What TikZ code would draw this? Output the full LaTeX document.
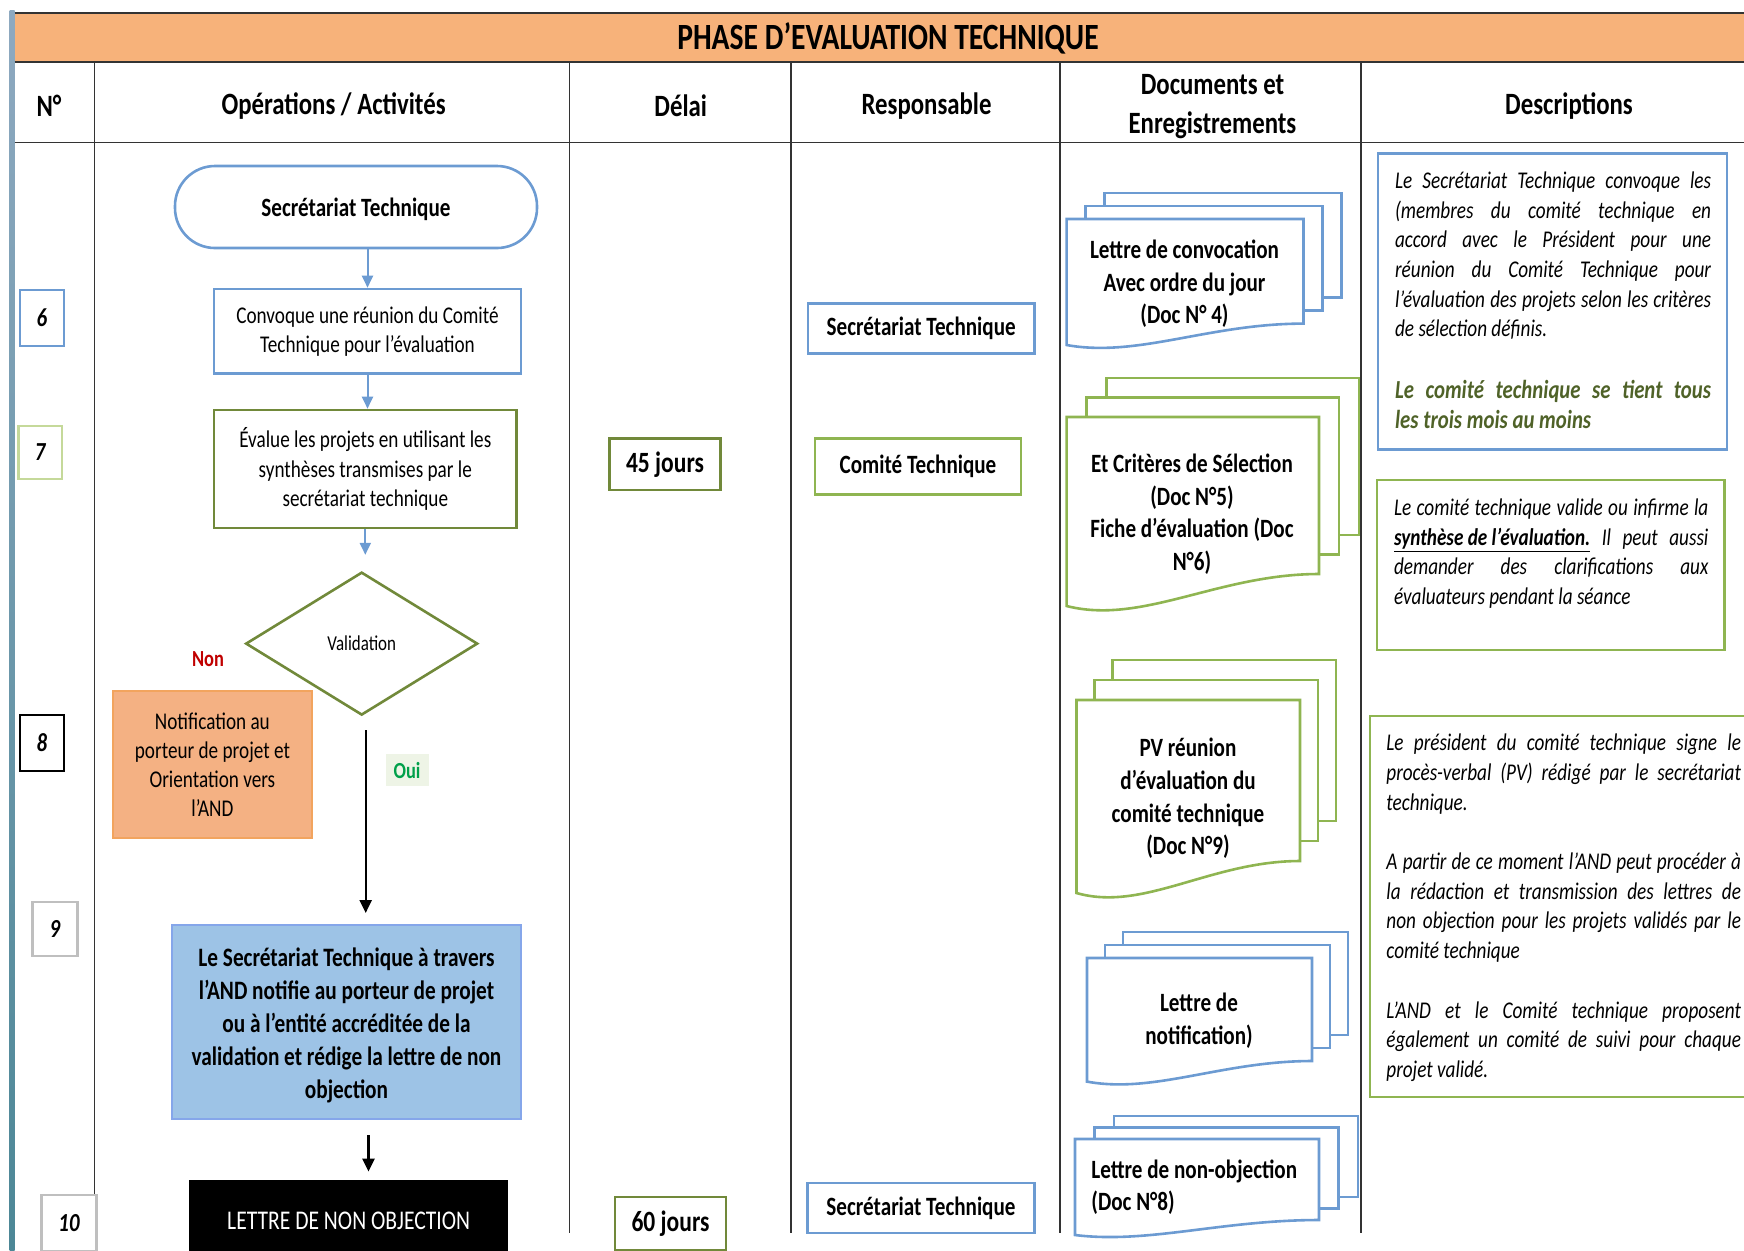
\documentclass[tikz,border=0pt]{standalone}
\usepackage{fontspec}
\setmainfont{Carlito}[FakeStretch=0.8]
\usetikzlibrary{arrows.meta,shapes.geometric}

\definecolor{bandorange}{HTML}{F7B27A}
\definecolor{lineblue}{HTML}{6C9BD2}
\definecolor{flowgreen}{HTML}{71893A}
\definecolor{docgreen}{HTML}{8FB551}
\definecolor{numgreen}{HTML}{C5D99A}
\definecolor{numgray}{HTML}{BFBFBF}
\definecolor{salmon}{HTML}{F4B183}
\definecolor{salmonline}{HTML}{F2A45E}
\definecolor{fillblue}{HTML}{9DC3E6}
\definecolor{nonred}{HTML}{C00000}
\definecolor{ouigreen}{HTML}{00A04A}
\definecolor{ouibg}{HTML}{EEF4E6}
\definecolor{textgreen}{HTML}{4F6228}
\definecolor{sidetop}{HTML}{8EA9C0}
\definecolor{sidebot}{HTML}{4C8796}

\newcommand\fsz[2]{\fontsize{#1}{#2}\selectfont}
\newcommand\jl[1]{\makebox[\linewidth][s]{#1}}
\newcommand\docstack[8]{%
  \foreach \k in {2,1}
    \draw[#8, fill=white, line width=1.3pt] ({#1+\k*#6},{#2-\k*#7}) rectangle ({#3+\k*#6},{#5-\k*#7});
  \draw[#8, fill=white, line width=1.3pt] (#1,#2) -- (#3,#2) -- (#3,#5)
    .. controls ({#1+0.6*(#3-#1)},#5) and ({#1+0.3*(#3-#1)},{#4+0.6*(#4-#5)}) .. (#1,#4) -- cycle;
}

\begin{document}
\begin{tikzpicture}[x=0.5pt, y=-0.5pt,
    every node/.style={inner sep=0pt},
    headtext/.style={font=\fsz{15.5}{19.5}\bfseries, align=center},
    numbox/.style={draw=#1, line width=1.2pt, font=\fsz{13}{15}\bfseries\itshape},
    flowbox/.style={draw=#1, line width=1.3pt, align=center, font=\fsz{12}{14.6}},
    respbox/.style={draw=#1, line width=1.3pt, font=\fsz{13.2}{16}\bfseries},
    doctext/.style={align=center, font=\fsz{13.2}{16.3}\bfseries},
    descbox/.style={draw=#1, line width=1.3pt},
    desctext/.style={anchor=north west, font=\fsz{12}{14.85}\itshape},
    bluearrow/.style={lineblue, line width=1pt, -{Triangle[length=6pt,width=5.5pt]}},
    blackarrow/.style={black, line width=1.1pt, -{Triangle[length=6.5pt,width=6pt]}}]
    \useasboundingbox (0,0) rectangle (1744,1250);
    \shade[top color=sidetop, bottom color=sidebot] (9.5,10) rectangle (14.5,1250);
    \fill[bandorange] (14.5,12.5) rectangle (1744,61.5);
    \draw[line width=1pt, black!80] (14.5,12.5) -- (1744,12.5);
    \draw[line width=1pt, black!80] (14.5,61.5) -- (1744,61.5);
    \draw[line width=0.9pt, black!80] (14.5,142.5) -- (1744,142.5);
    \draw[line width=0.8pt, black!80] (94.5,61.5) -- (94.5,1195);
    \foreach \x in {569.5,791,1060,1361}{
        \draw[line width=0.8pt, black!80] (\x,61.5) -- (\x,1233);}
    \node[font=\fsz{18.5}{22}\bfseries] (title) at (888,38) {PHASE D’EVALUATION TECHNIQUE};
    \node[headtext] (hno) at (49,106) {N°};
    \node[headtext] (hop) at (333.6,106) {Opérations / Activités};
    \node[headtext] (hdelai) at (680.7,106) {Délai};
    \node[headtext] (hresp) at (926.5,106) {Responsable};
    \node[headtext] (hdoc) at (1212.5,107) {Documents et\\Enregistrements};
    \node[headtext] (hdesc) at (1569,106) {Descriptions};

    \node[numbox=lineblue, minimum width=22pt, minimum height=28pt] (n6) at (42,318) {6};
    \node[numbox=numgreen, minimum width=21.8pt, minimum height=26.6pt] (n7) at (40.2,452.4) {7};
    \node[numbox=black, minimum width=22pt, minimum height=28pt] (n8) at (42,743) {8};
    \node[numbox=numgray, minimum width=22.4pt, minimum height=27pt] (n9) at (55,929) {9};
    \node[numbox=numgray, minimum width=27.5pt, minimum height=28pt] (n10) at (69,1223) {10};

    \node[draw=lineblue, line width=1.3pt, rounded corners=20pt, minimum width=181pt, minimum height=41pt,
        text depth=0pt, font=\fsz{13.2}{16}\bfseries] (start) at (356,207) {Secrétariat Technique};
    \node[flowbox=lineblue, minimum width=153.5pt, minimum height=42.3pt] (conv) at (367.5,331.3)
        {Convoque une réunion du Comité\\Technique pour l’évaluation};
    \node[flowbox=flowgreen, minimum width=151.3pt, minimum height=59pt] (eval) at (365.3,469)
        {Évalue les projets en utilisant les\\synthèses transmises par le\\secrétariat technique};
    \node[diamond, draw=flowgreen, line width=1.3pt, aspect=1.62, minimum width=116pt, minimum height=71.5pt,
        font=\fsz{10.6}{12}] (valid) at (361.7,643.6) {Validation};
    \node[font=\fsz{11.5}{13}\bfseries, text=nonred] (non) at (208,659) {Non};
    \node[flowbox=salmonline, fill=salmon, minimum width=99.4pt, minimum height=73.5pt] (notif) at (212.4,764.5)
        {Notification au\\porteur de projet et\\Orientation vers\\l’AND};
    \node[fill=ouibg, minimum width=21.5pt, minimum height=16pt, font=\fsz{11.5}{13}\bfseries, text=ouigreen] (oui)
        at (407,770) {Oui};
    \node[draw=fillblue!85!blue, fill=fillblue, line width=1pt, align=center, minimum width=174.5pt, minimum height=97pt,
        font=\fsz{13.3}{16.4}\bfseries] (synth) at (346.5,1022) {};
    \node[align=center, font=\fsz{13.3}{16.4}\bfseries] (synthtxt) at (346.5,1025.3)
        {Le Secrétariat Technique à travers\\l’AND notifie au porteur de projet\\ou à l’entité accréditée de la\\validation et rédige la lettre de non\\objection};
    \node[fill=black, text=white, minimum width=159.3pt, minimum height=41pt, font=\fsz{13.5}{16}] (lettre)
        at (348.7,1221) {LETTRE DE NON OBJECTION};

    \draw[bluearrow] (start.south -| conv.north) -- (conv.north);
    \draw[bluearrow] (conv.south) -- (conv.south |- eval.north);
    \draw[bluearrow, shorten >=8pt] (eval.south) -- (eval.south |- valid.north);
    \draw[blackarrow, shorten <=7pt, shorten >=5.5pt] ([xshift=2pt]valid.south) -- ([xshift=2pt]valid.south |- synth.north);
    \draw[blackarrow, shorten <=7.5pt, shorten >=4pt] ([xshift=11pt]synth.south) -- ([xshift=11pt]synth.south |- lettre.north);

    \node[respbox=flowgreen, minimum width=55.4pt, minimum height=25.7pt, font=\fsz{14.7}{17}\bfseries] (d45)
        at (665,464.3) {45 jours};
    \node[respbox=flowgreen, minimum width=55.5pt, minimum height=26.5pt, font=\fsz{14.7}{17}\bfseries] (d60)
        at (670.5,1223.5) {60 jours};

    \node[respbox=lineblue, minimum width=113.3pt, minimum height=25pt] (r1) at (921.2,328.6) {Secrétariat Technique};
    \node[respbox=docgreen, minimum width=103pt, minimum height=28pt] (r2) at (918,466.6) {Comité Technique};
    \node[respbox=lineblue, minimum width=113.5pt, minimum height=25pt] (r3) at (921,1208) {Secrétariat Technique};

    \docstack{1066.6}{219}{1303.5}{345}{323.6}{19}{13}{lineblue}
    \docstack{1066.6}{417}{1319}{606}{574}{20}{19.5}{docgreen}
    \docstack{1076.5}{700}{1300}{893}{861}{18}{20}{docgreen}
    \docstack{1087}{958}{1312}{1081.6}{1061}{18}{13}{lineblue}
    \docstack{1075}{1139}{1319}{1235}{1220}{19.5}{11.5}{lineblue}
    \node[doctext] (doc1) at (1184.5,284) {Lettre de convocation\\Avec ordre du jour\\(Doc N° 4)};
    \node[doctext] (doc2) at (1192,514) {Et Critères de Sélection\\(Doc N°5)\\Fiche d’évaluation (Doc\\N°6)};
    \node[doctext] (doc3) at (1188,798.5) {PV réunion\\d’évaluation du\\comité technique\\(Doc N°9)};
    \node[doctext] (doc4) at (1199,1021) {Lettre de\\notification)};
    \node[doctext, align=left, anchor=west] (doc5) at (1091,1187) {Lettre de non-objection\\(Doc N°8)};

    \node[descbox=lineblue, minimum width=174.5pt, minimum height=148pt] (desc1) at (1552.5,301.5) {};
    \node[descbox=docgreen, minimum width=173.8pt, minimum height=85pt] (desc2) at (1550.8,565) {};
    \node[descbox=docgreen, minimum width=195pt, minimum height=190.5pt] (desc3) at (1565,906.5) {};
    \node[desctext] (desc1txt) at (1394.7,167.2) {\parbox[t]{158pt}{%
        \jl{\strut Le Secrétariat Technique convoque les}\\
        \jl{(membres du comité technique en}\\
        \jl{accord avec le Président pour une}\\
        \jl{réunion du Comité Technique pour}\\
        \jl{l’évaluation des projets selon les critères}\\
        de sélection définis.\\[16pt]
        {\fsz{13}{16}\bfseries\color{textgreen}\jl{Le comité technique se tient tous}\\
        les trois mois au moins}}};
    \node[desctext] (desc2txt) at (1393.6,494.2) {\parbox[t]{157.2pt}{%
        \jl{\strut Le comité technique valide ou infirme la}\\
        \jl{\underline{\bfseries synthèse de l’évaluation.} Il peut aussi}\\
        \jl{demander des clarifications aux}\\
        évaluateurs pendant la séance}};
    \node[desctext] (desc3txt) at (1386,729.5) {\parbox[t]{177.3pt}{%
        \jl{\strut Le président du comité technique signe le}\\
        \jl{procès-verbal (PV) rédigé par le secrétariat}\\
        technique.\\[14.85pt]
        \jl{A partir de ce moment l’AND peut procéder à}\\
        \jl{la rédaction et transmission des lettres de}\\
        \jl{non objection pour les projets validés par le}\\
        comité technique\\[14.85pt]
        \jl{L’AND et le Comité technique proposent}\\
        \jl{également un comité de suivi pour chaque}\\
        projet validé.}};
\end{tikzpicture}
\end{document}
